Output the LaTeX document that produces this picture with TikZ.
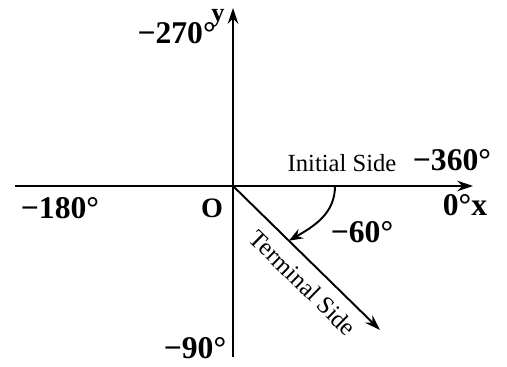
\documentclass[tikz,border=0pt]{standalone}
\usepackage{fontspec}
\setmainfont{Liberation Serif}
\usetikzlibrary{arrows.meta,calc}
\tikzset{
  axis/.style={line width=1.1pt,-{Stealth[length=9pt,width=6pt]}},
  biglabel/.style={font=\fontsize{18}{18}\selectfont\bfseries,inner sep=0pt},
  sidelabel/.style={font=\fontsize{14}{14}\selectfont,inner sep=0pt}
}
\begin{document}
\begin{tikzpicture}[scale=1]
  \useasboundingbox (-4.66,-3.62) rectangle (5.48,3.72);
  \coordinate (O) at (0,0);
  \coordinate (xl) at (-4.36,0);
  \coordinate (xr) at (4.8,0);
  \coordinate (yb) at (0,-3.42);
  \coordinate (yt) at (0,3.56);
  \coordinate (T) at (2.94,-2.88);
  \coordinate (arcA) at (2.04,0);
  \coordinate (arcB) at ($(O)!0.38!(T)$);
  \draw[axis] (xl) -- (xr);
  \draw[line width=1.1pt] (O) -- (yb);
  \draw[axis] (O) -- (yt);
  \draw[axis] (O) -- (T);
  \draw[line width=1.1pt,-{Stealth[length=8pt,width=6pt]}] (arcA) to[out=-90,in=30] (arcB);
  \node[biglabel,anchor=east] (m270) at (-0.34,3.06) {−270°};
  \node[font=\fontsize{15}{15}\selectfont\bfseries,inner sep=0pt] (ylab) at (-0.3,3.36) {y};
  \node[sidelabel,anchor=base] (init) at (2.18,0.28) {Initial Side};
  \node[biglabel] (m360) at (4.38,0.52) {−360°};
  \node[biglabel] (zero) at (4.64,-0.38) {0°x};
  \node[biglabel] (m180) at (-3.46,-0.44) {−180°};
  \node[font=\fontsize{16}{16}\selectfont\bfseries,inner sep=0pt] (olab) at (-0.42,-0.44) {O};
  \node[biglabel] (m60) at (2.58,-0.92) {−60°};
  \node[sidelabel,rotate=-44.4] (term) at (1.4,-1.94) {Terminal Side};
  \node[biglabel] (m90) at (-0.76,-3.24) {−90°};
\end{tikzpicture}
\end{document}
